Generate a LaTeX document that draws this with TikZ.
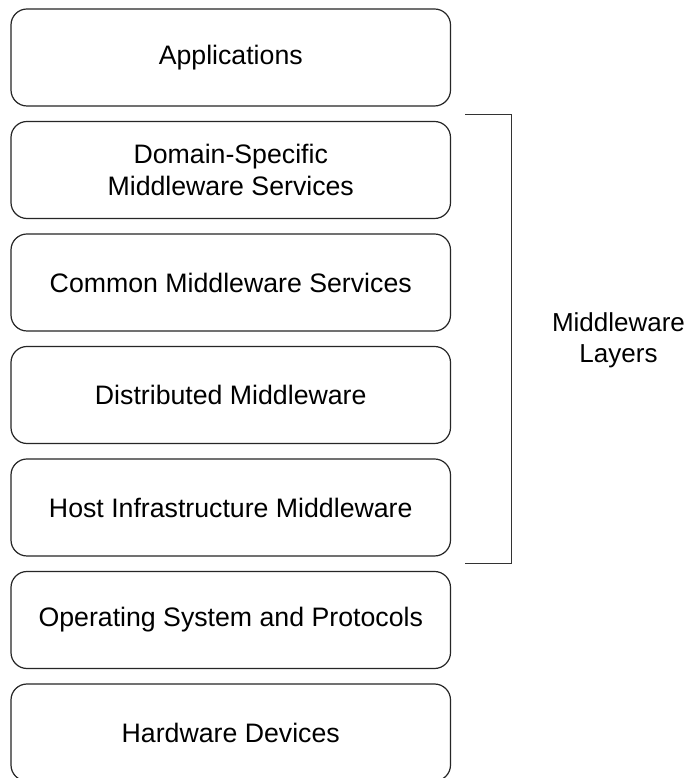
\documentclass[tikz,border=0pt]{standalone}
\usepackage{fontspec}
\setmainfont{Liberation Sans}
\begin{document}
\begin{tikzpicture}[x=1pt,y=1pt,
  layer/.style={draw=black!85, line width=1.2pt, rounded corners=16pt,
    minimum width=439.5pt, minimum height=97pt, inner sep=0pt, outer sep=0pt,
    align=center, font=\fontsize{26.7}{32}\selectfont},
  bracketline/.style={draw=black!80, line width=1pt},
  lbl/.style={align=center, font=\fontsize{26}{31}\selectfont, inner sep=0pt}]
\useasboundingbox (0,0) rectangle (689,778);
\clip (0,0) rectangle (689,778);
\fill[white] (0,0) rectangle (689,778);
\node[layer] (app) at (230.75,{778-57.5}) {Applications};
\node[layer] (dom) at (230.75,{778-170}) {Domain-Specific\\Middleware Services};
\node[layer] (com) at (230.75,{778-282.5}) {Common Middleware Services};
\node[layer] (dis) at (230.75,{778-395}) {Distributed Middleware};
\node[layer] (host) at (230.75,{778-507.5}) {Host Infrastructure Middleware};
\node[layer] (os) at (230.75,{778-620}) {Operating System and Protocols};
\node[layer] (hw) at (230.75,{778-732.5}) {Hardware Devices};
\coordinate (bt) at (465,{778-114.5});
\coordinate (bb) at (465,{778-564});
\draw[bracketline] (bt) -- ++(46,0) |- (bb);
\node[lbl] (mw) at (618.5,{778-340}) {Middleware\\Layers};
\end{tikzpicture}
\end{document}
